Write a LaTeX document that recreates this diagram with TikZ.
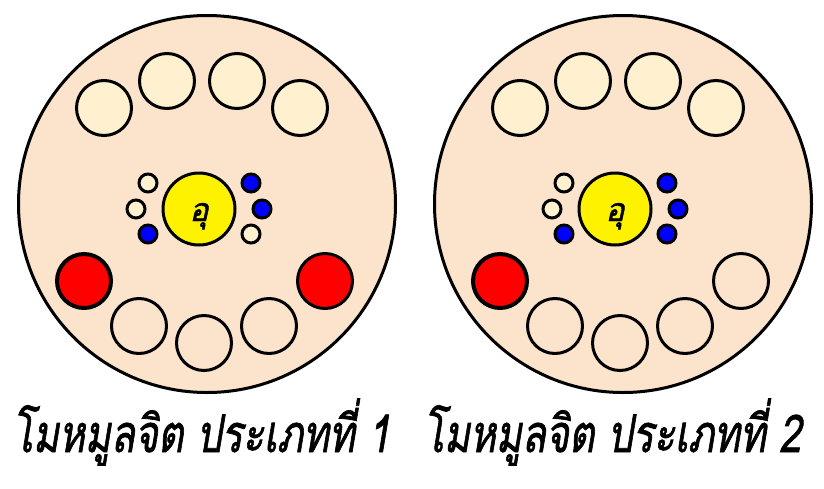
\documentclass[tikz,border=0pt]{standalone}
\usepackage{fontspec}
\newfontfamily\thaifont[Script=Thai, FakeSlant=0.22, FakeBold=1.5]{Loma}
\usepackage{graphicx}
\usepackage{tikz}
\usetikzlibrary{positioning}
\definecolor{panelfill}{HTML}{FCE4CC}
\definecolor{seatfill}{HTML}{FFF1D0}
\newcommand{\captiontext}[1]{\resizebox{378pt}{\height}{\thaifont\fontsize{52}{60}\selectfont #1}}

\begin{document}
\begin{tikzpicture}[x=1pt, y=-1pt]

\tikzstyle{panel} = [circle, draw=black, line width=3pt, fill=panelfill, minimum size=377pt, inner sep=0pt]
\tikzstyle{seat} = [circle, draw=black, line width=3pt, minimum size=55pt, inner sep=0pt]
\tikzstyle{core} = [circle, draw=black, line width=3pt, minimum size=72pt, inner sep=0pt, fill=yellow]
\tikzstyle{dot} = [circle, draw=black, line width=3pt, minimum size=18pt, inner sep=0pt]
\tikzstyle{caption} = [anchor=base, inner sep=0pt]

\useasboundingbox (0,0) rectangle (824,488);

% Make panels
\foreach \n/\cx/\dcol/\rcol in {1/207/seatfill/red, 2/623/blue/panelfill} {
  \node (panel\n) [panel] at (\cx, 204) {};

  % upper seats
  \node (up\n-1) [seat, fill=seatfill] at (\cx-103, 108) {};
  \node (up\n-2) [seat, fill=seatfill] at (\cx-40, 81) {};
  \node (up\n-3) [seat, fill=seatfill] at (\cx+30, 81) {};
  \node (up\n-4) [seat, fill=seatfill] at (\cx+93, 108) {};

  % centre
  \node (core\n) [core] at (\cx-8, 209) {};
  \node (mark\n) [anchor=base, inner sep=0pt, font=\thaifont\fontsize{32}{34}\selectfont] at (\cx-8, 221) {อุ};

  % small dots
  \node (dl\n-1) [dot, fill=seatfill] at (\cx-59, 183) {};
  \node (dl\n-2) [dot, fill=seatfill] at (\cx-71, 209) {};
  \node (dl\n-3) [dot, fill=blue] at (\cx-59, 234) {};
  \node (dr\n-1) [dot, fill=blue] at (\cx+44, 183) {};
  \node (dr\n-2) [dot, fill=blue] at (\cx+55, 209) {};
  \node (dr\n-3) [dot, fill=\dcol] at (\cx+44, 234) {};

  % lower seats
  \node (lo\n-1) [seat, line width=4pt, minimum size=54pt, fill=red] at (\cx-123, 281) {};
  \node (lo\n-2) [seat, fill=panelfill] at (\cx-68, 326) {};
  \node (lo\n-3) [seat, fill=panelfill] at (\cx-3, 343) {};
  \node (lo\n-4) [seat, fill=panelfill] at (\cx+62, 326) {};
  \node (lo\n-5) [seat, fill=\rcol] at (\cx+118, 281) {};
}

% Captions
\node (caption1) [caption] at (201, 452) {\captiontext{โมหมูลจิต ประเภทที่ 1}};
\node (caption2) [caption] at (612, 452) {\captiontext{โมหมูลจิต ประเภทที่ 2}};

\end{tikzpicture}
\end{document}
